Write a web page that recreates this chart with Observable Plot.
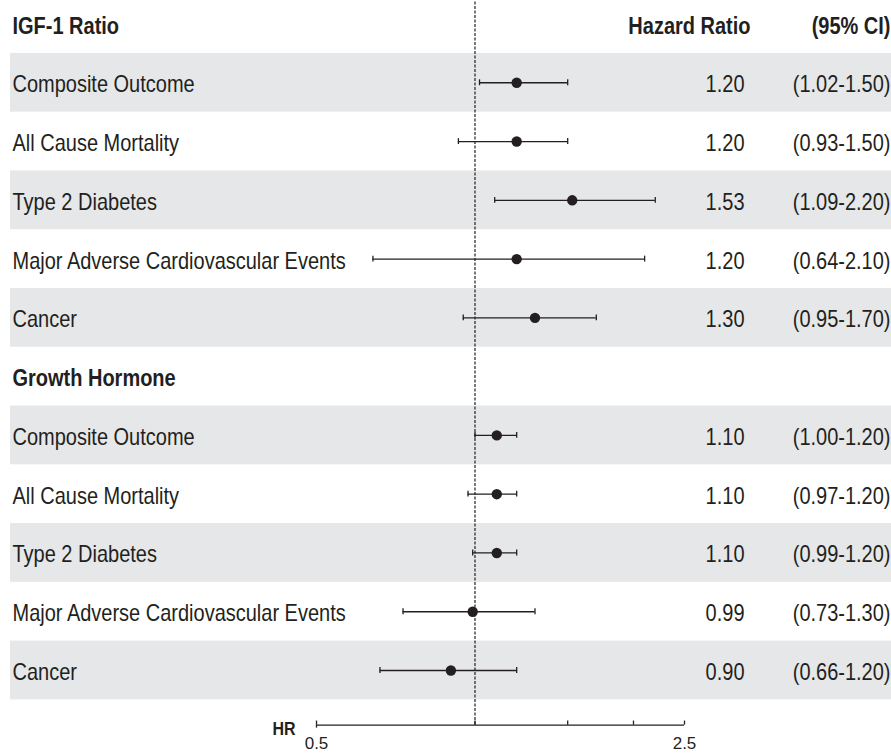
<!DOCTYPE html>
<html>
<head>
<meta charset="utf-8">
<script src="https://cdn.jsdelivr.net/npm/d3@7"></script>
<script src="https://cdn.jsdelivr.net/npm/@observablehq/plot@0.6"></script>
<style>
  html, body { margin: 0; padding: 0; background: #fff; }
  svg { display: block; }
</style>
</head>
<body>
<div id="chart"></div>
<script>
// ---- data ----
const groups = ["IGF-1 Ratio", "Growth Hormone"];
const outcomes = ["Composite Outcome", "All Cause Mortality", "Type 2 Diabetes", "Major Adverse Cardiovascular Events", "Cancer"];
const igfHR    = [1.20, 1.20, 1.53, 1.20, 1.30];
const igfLower = [1.02, 0.93, 1.09, 0.64, 0.95];
const igfUpper = [1.50, 1.50, 2.20, 2.10, 1.70];
const ghHR     = [1.10, 1.10, 1.10, 0.99, 0.90];
const ghLower  = [1.00, 0.97, 0.99, 0.73, 0.66];
const ghUpper  = [1.20, 1.20, 1.20, 1.30, 1.20];
const axisTicks = [0.5, 1, 1.5, 2, 2.5];
const axisLabels = [0.5, 2.5];
const refLine = 1;

// ---- build table ----
const series = [[igfHR, igfLower, igfUpper], [ghHR, ghLower, ghUpper]];
const headers = [];
const rows = [];
let r = 0;
groups.forEach((g, gi) => {
  headers.push({row: r, label: g});
  r++;
  outcomes.forEach((o, i) => {
    const [hr, lo, hi] = series[gi];
    rows.push({row: r, label: o, hr: hr[i], lo: lo[i], hi: hi[i], band: i % 2 === 0,
      hrText: hr[i].toFixed(2), ciText: `(${lo[i].toFixed(2)}-${hi[i].toFixed(2)})`});
    r++;
  });
});
const bands = rows.filter(d => d.band);

const ink = "#231f20";
const font = "'Liberation Sans', Arial, Helvetica, sans-serif";
const axisY = 11.93;
const fs = 20;

const chart = Plot.plot({
  width: 891,
  height: 754,
  marginLeft: 0, marginRight: 0, marginTop: 0, marginBottom: 0,
  style: {fontFamily: font, color: ink, background: "#fff"},
  x: {type: "log", domain: [0.5, 2.5], range: [316, 684], axis: null},
  y: {type: "linear", domain: [0, 11], range: [23.5, 670], axis: null},
  marks: [
    Plot.rect(bands, {y1: d => d.row - 0.5, y2: d => d.row + 0.5, fill: "#e6e7e8", insetLeft: 10}),
    // reference line
    Plot.ruleX([refLine], {y1: -0.45, y2: axisY, stroke: ink, strokeWidth: 1.2, strokeDasharray: "3,1.5"}),
    // CI lines and caps
    Plot.ruleY(rows, {y: "row", x1: "lo", x2: "hi", stroke: ink, strokeWidth: 1.3}),
    Plot.ruleX(rows, {x: "lo", y1: d => d.row - 0.05, y2: d => d.row + 0.05, stroke: ink, strokeWidth: 1.3}),
    Plot.ruleX(rows, {x: "hi", y1: d => d.row - 0.05, y2: d => d.row + 0.05, stroke: ink, strokeWidth: 1.3}),
    Plot.dot(rows, {x: "hr", y: "row", r: 5.2, fill: ink, stroke: "none"}),
    // labels
    Plot.text(headers, {y: "row", text: "label", frameAnchor: "left", dx: 12, dy: 2, textAnchor: "start", fontSize: fs, fontWeight: "bold", fill: ink, className: "stretch"}),
    Plot.text(rows, {y: "row", text: "label", frameAnchor: "left", dx: 12, dy: 2, textAnchor: "start", fontSize: fs, fill: ink, className: "stretch"}),
    Plot.text(["Hazard Ratio"], {y: 0, text: d => d, frameAnchor: "right", dx: -141, dy: 2, textAnchor: "end", fontSize: fs, fontWeight: "bold", fill: ink, className: "stretch"}),
    Plot.text(["(95% CI)"], {y: 0, text: d => d, frameAnchor: "right", dx: -1, dy: 2, textAnchor: "end", fontSize: fs, fontWeight: "bold", fill: ink, className: "stretch"}),
    Plot.text(rows, {y: "row", text: "hrText", frameAnchor: "right", dx: -147, dy: 2, textAnchor: "end", fontSize: fs, fill: ink, className: "stretch"}),
    Plot.text(rows, {y: "row", text: "ciText", frameAnchor: "right", dx: -1, dy: 2, textAnchor: "end", fontSize: fs, fill: ink, className: "stretch"}),
    // bottom axis
    Plot.ruleY([axisY], {x1: 0.5, x2: 2.5, stroke: ink, strokeWidth: 1.3}),
    Plot.ruleX(axisTicks, {x: d => d, y1: axisY - 0.07, y2: axisY, stroke: ink, strokeWidth: 1.3}),
    Plot.ruleX([0.5], {x: d => d, y1: axisY, y2: axisY + 0.05, stroke: ink, strokeWidth: 1.3}),
    Plot.text(axisLabels, {x: d => d, y: axisY, dy: 18, text: d => String(d), fontSize: 17, fill: ink}),
    Plot.text(["HR"], {x: 0.5, y: axisY, dx: -21, dy: 4, textAnchor: "end", text: d => d, fontSize: 16, fontWeight: "bold", fill: ink, className: "stretch"})
  ]
});
document.getElementById("chart").append(chart);

// stretch the text vertically (the reference type is tall and condensed)
chart.querySelectorAll("g.stretch text").forEach(t => {
  const b = t.getBBox();
  const cy = b.y + b.height / 2;
  const prev = t.getAttribute("transform") || "";
  t.setAttribute("transform", `${prev} translate(0,${cy}) scale(1,1.16) translate(0,${-cy})`.trim());
});
</script>
</body>
</html>
